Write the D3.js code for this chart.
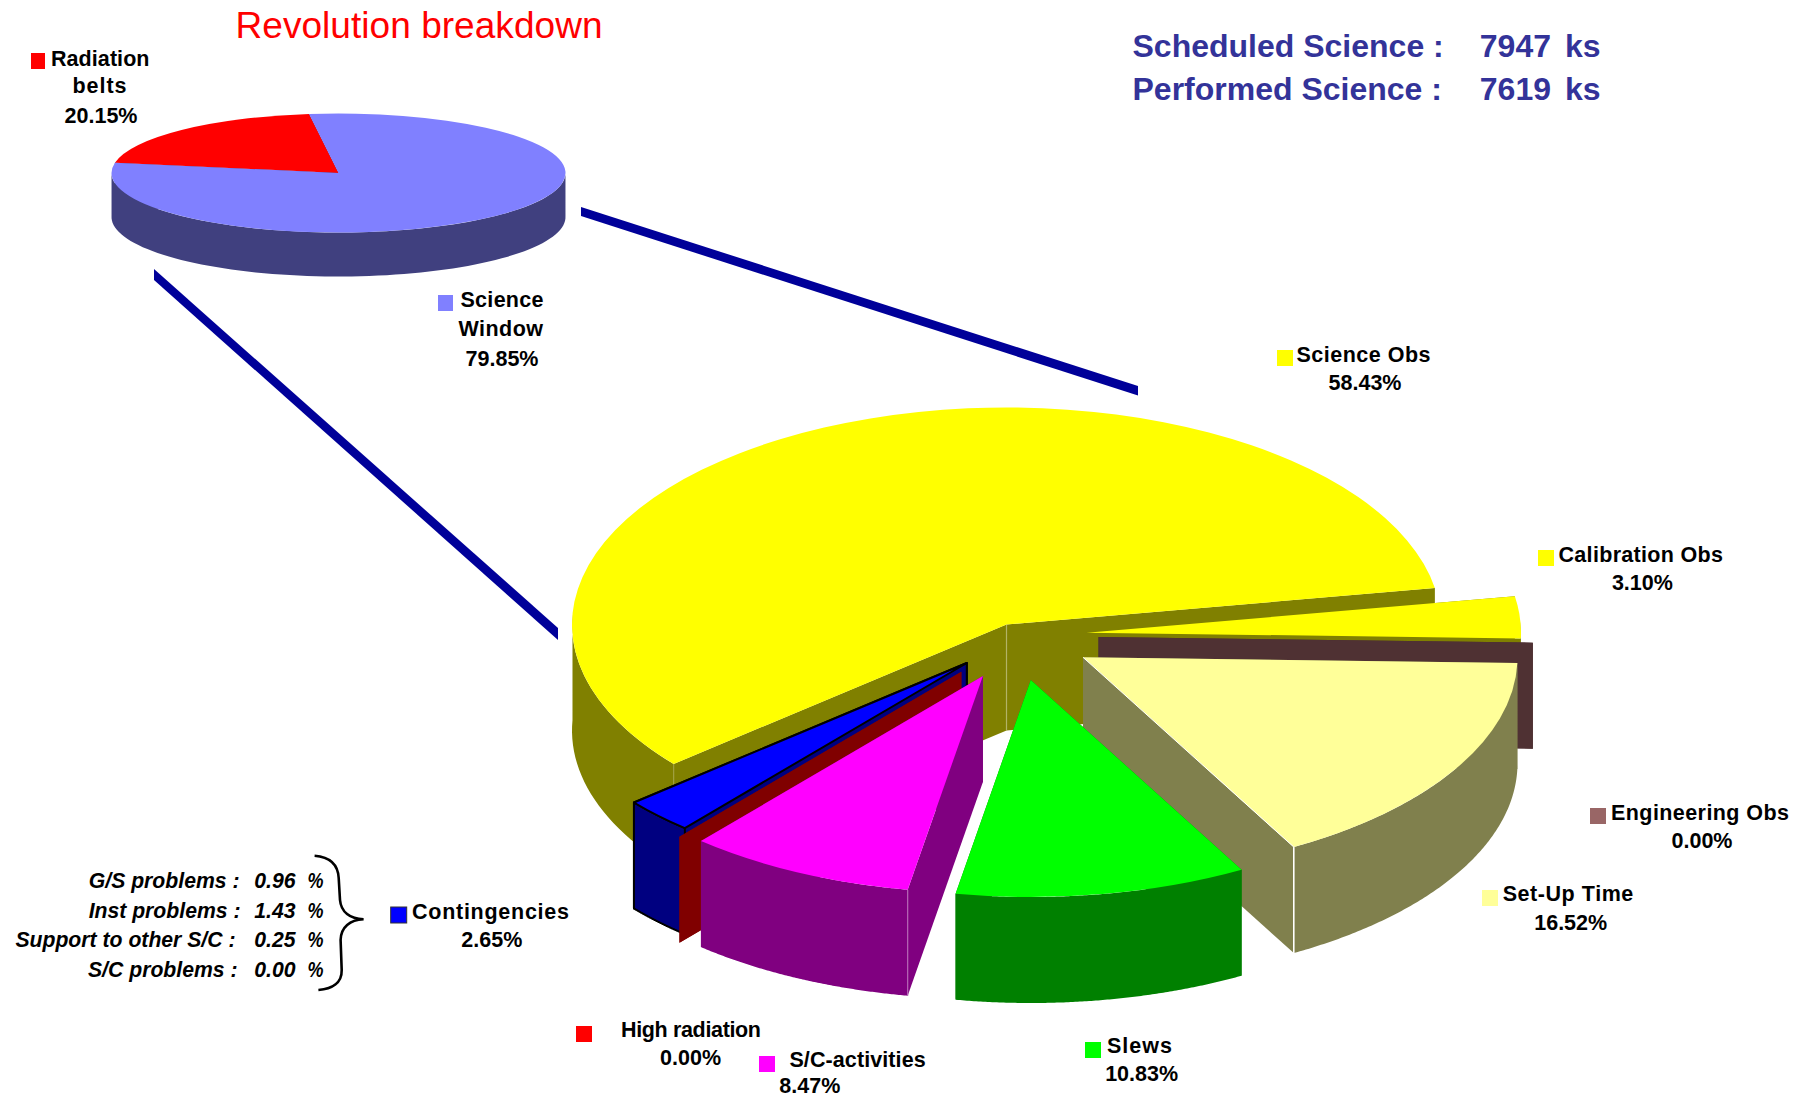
<!DOCTYPE html>
<html>
<head>
<meta charset="utf-8">
<script src="https://cdn.jsdelivr.net/npm/d3@7/dist/d3.min.js"></script>
<style>
html,body{margin:0;padding:0;background:#fff;}
svg{display:block;font-family:"Liberation Sans",Arial,sans-serif;}
.lab{font-weight:bold;font-size:21.5px;fill:#000;}
</style>
</head>
<body>
<svg id="c" width="1812" height="1097"></svg>
<script>
// ---- data
const titleText = "Revolution breakdown";
const miniCategories = ["Radiation belts", "Science Window"];
const miniValues = [20.15, 79.85];
const mainCategories = ["Science Obs","Calibration Obs","Engineering Obs","Set-Up Time","Slews","S/C-activities","High radiation","Contingencies"];
const mainValues = [58.43, 3.10, 0.00, 16.52, 10.83, 8.47, 0.00, 2.65];
const contingencyLabels = ["G/S problems :","Inst problems :","Support to other S/C :","S/C problems :"];
const contingencyValues = ["0.96","1.43","0.25","0.00"];
const summaryLabels = ["Scheduled Science :","Performed Science :"];
const summaryValues = [7947, 7619];

// ---- styles
const mainTop  = ["#ffff00","#ffff00","#996666","#ffff99","#00ff00","#ff00ff","#ff0000","#0000ff"];
const mainSide = ["#808000","#808000","#4f3133","#80804d","#008000","#800080","#800000","#000080"];
const miniTop  = ["#ff0000","#8080ff"];
const miniSide = ["#800000","#40407f"];

// ---- layout
const svg = d3.select("#c");
const rad = d => d*Math.PI/180;
const mainGeom = {rx:434.5, ry:217, depth:106, start:230};
const miniGeom = {rx:227, ry:59.5, depth:44, start:280};
// apex of each exploded slice on the page
const mainApex = [[1006.5,624.5],[1086.5,632.7],[1098.5,637],[1083,657.3],[1030.8,680],[982.9,676],[961.4,671.7],[966.8,663]];
const miniApex = [[338.5,173],[338.5,173]];
const paintOrder = [0,1,2,3,7,6,5,4];

function drawPie(values, geom, apex, top, side, order, opts){
  const arcs = d3.pie().sort(null).value(d=>d)
    .startAngle(rad(geom.start)).endAngle(rad(geom.start+360))(values);
  const arcGen = d3.arc().innerRadius(0).outerRadius(geom.rx);
  const pt = (i,a)=>[apex[i][0]+geom.rx*Math.sin(a), apex[i][1]-geom.ry*Math.cos(a)];
  const poly = d3.line();
  const shared = opts.wallsFirst ? svg.append("g") : null;
  order.forEach(i=>{
    const d = arcs[i], A = apex[i], g = svg.append("g");
    const wallG = shared || g;
    const sty = sel => {
      sel.attr("fill",side[i]);
      if(opts.outlined===i) sel.attr("stroke","#000").attr("stroke-width",2).attr("stroke-linejoin","round");
    };
    const dn = p=>[p[0],p[1]+geom.depth];
    const P0 = pt(i,d.startAngle), P1 = pt(i,d.endAngle);
    // radial walls
    [P0,P1].forEach(P=>{
      wallG.append("path").attr("d",poly([A,P,dn(P),dn(A)])+"Z").call(sty);
    });
    // outer wall, front-facing part of the rim only
    const steps = d3.range(0,129).map(k=>d.startAngle+(d.endAngle-d.startAngle)*k/128)
      .filter(a=>Math.cos(a)<0.05);
    if(steps.length>1){
      const rim = steps.map(a=>pt(i,a));
      wallG.append("path").attr("d",poly(rim.concat(rim.slice().reverse().map(dn)))+"Z").call(sty);
    }
    // light vertical corner lines
    (opts.edges[i]||[]).forEach(e=>{
      const p = e.at==="apex"?A:(e.at==="start"?P0:P1);
      wallG.append("line").attr("x1",p[0]).attr("y1",p[1]).attr("x2",p[0]).attr("y2",p[1]+geom.depth)
        .attr("stroke",e.c).attr("stroke-width",e.w||1.2);
    });
    // top surface
    if(d.endAngle-d.startAngle>1e-6){
      const t = g.append("path").attr("d",arcGen(d))
        .attr("transform",`translate(${A[0]},${A[1]}) scale(1,${geom.ry/geom.rx})`)
        .attr("fill",top[i]);
      if(opts.outlined===i) t.attr("stroke","#000").attr("stroke-width",2)
        .attr("vector-effect","non-scaling-stroke").attr("stroke-linejoin","round");
    }
  });
}

// connector bands
const bands = [[[581,207],[1138,386],[1138,395.5],[581,216]],[[154,269],[558,628],[558,640],[154,280]]];
svg.selectAll("path.band").data(bands).enter().append("path").attr("class","band")
  .attr("d",d=>d3.line()(d)+"Z").attr("fill","#000099");

drawPie(miniValues, miniGeom, miniApex, miniTop, miniSide, [0,1], {edges:{}, wallsFirst:true});
drawPie(mainValues, mainGeom, mainApex, mainTop, mainSide, paintOrder, {
  outlined:7,
  edges:{
    0:[{at:"apex",c:"#b3b366"},{at:"start",c:"#a0a040"}],
    3:[{at:"end",c:"#ffffff",w:1.6}],
    5:[{at:"start",c:"#b566b5"}]
  }
});
// pale seam on the Set-Up Time radial edge
(function(){
  const a = rad(mainGeom.start+360*d3.sum(mainValues.slice(0,4))/100);
  const A = mainApex[3];
  svg.append("line").attr("x1",A[0]).attr("y1",A[1])
    .attr("x2",A[0]+mainGeom.rx*Math.sin(a)).attr("y2",A[1]-mainGeom.ry*Math.cos(a))
    .attr("stroke","#ffffff").attr("stroke-width",1);
})();

// title
svg.append("text").text(titleText).attr("x",235.5).attr("y",37.5)
  .attr("font-size",37).attr("fill","#ff0000").attr("textLength",367);

// summary
summaryLabels.forEach((s,i)=>{
  const y = [56.7,100][i];
  const t = a=>svg.append("text").attr("y",y).attr("font-size",32).attr("font-weight","bold").attr("fill","#333399").text(a);
  t(s).attr("x",1132.5);
  t(summaryValues[i]).attr("x",1551).attr("text-anchor","end");
  t("ks").attr("x",1565);
});

// legend labels
const fmt = v=>v.toFixed(2)+"%";
const mainColorOf = n=>mainTop[mainCategories.indexOf(n)];
const pct = n=>fmt(mainValues[mainCategories.indexOf(n)]);
const legendLayout = [
 {name:"Science Obs", sw:[1277,350], tx:1296.5, ty:362, w:134, px:1365, py:389.5},
 {name:"Calibration Obs", sw:[1538,550], tx:1558.5, ty:561.5, w:164.5, px:1642.4, py:589.5},
 {name:"Engineering Obs", sw:[1590,808], tx:1611, ty:819.5, w:178, px:1702, py:847.5},
 {name:"Set-Up Time", sw:[1482,890], tx:1502.7, ty:901, w:130.6, px:1570.7, py:929.5},
 {name:"Slews", sw:[1085,1042], tx:1107, ty:1053, w:65, px:1141.6, py:1081},
 {name:"S/C-activities", sw:[759,1056], tx:789.4, ty:1067, w:136.3, px:809.8, py:1092.5},
 {name:"High radiation", sw:[576,1026], tx:621, ty:1036.7, w:140, px:690.6, py:1065},
 {name:"Contingencies", sw:[390.7,907], tx:412, ty:919, w:157, px:491.8, py:947}
];
legendLayout.forEach(L=>{
  const c = mainColorOf(L.name);
  const r = svg.append("rect").attr("x",L.sw[0]).attr("y",L.sw[1]).attr("width",16).attr("height",16).attr("fill",c);
  if(L.name==="Contingencies") r.attr("stroke","#333").attr("stroke-width",1);
  svg.append("text").attr("class","lab").attr("x",L.tx).attr("y",L.ty).text(L.name)
    .attr("textLength",L.w).attr("lengthAdjust","spacing");
  svg.append("text").attr("class","lab").attr("x",L.px).attr("y",L.py).attr("text-anchor","middle").text(pct(L.name));
});

// mini pie legend (wrapped names)
const miniLayout = [
 {sw:[31,53,14], lines:[["Radiation",51,66,98.5],["belts",72.5,92.7,54]], p:[101,122.7]},
 {sw:[438,295,15], lines:[["Science",460.5,306.7,83],["Window",458.5,335.7,84.5]], p:[502,366]}
];
miniLayout.forEach((L,i)=>{
  svg.append("rect").attr("x",L.sw[0]).attr("y",L.sw[1]).attr("width",L.sw[2]).attr("height",16).attr("fill",miniTop[i]);
  L.lines.forEach(l=>svg.append("text").attr("class","lab").attr("x",l[1]).attr("y",l[2])
    .attr("textLength",l[3]).attr("lengthAdjust","spacing").text(l[0]));
  svg.append("text").attr("class","lab").attr("x",L.p[0]).attr("y",L.p[1]).attr("text-anchor","middle").text(fmt(miniValues[i]));
});

// contingency breakdown
const rowY = [887.5,917.5,947,976.5], rowEnd = [239.5,240.5,235.5,237.5];
contingencyLabels.forEach((s,i)=>{
  const t = (a,x,anc)=>svg.append("text").attr("class","lab").style("font-style","italic").style("font-size","21.2px")
    .attr("x",x).attr("y",rowY[i]).attr("text-anchor",anc).text(a);
  t(s,rowEnd[i],"end");
  t(contingencyValues[i],295.5,"end");
  t("%",307.5,"start").attr("textLength",16).attr("lengthAdjust","spacingAndGlyphs");
});
svg.append("path")
  .attr("d","M314.6,855.7 C331,857 338,865 338.7,878 L340,900 C341,912 350,919 363.6,919.3 C350,920 341,927 340.6,940 L341.7,970 C342,983 332,989 318.4,990")
  .attr("fill","none").attr("stroke","#000").attr("stroke-width",2.6);
</script>
</body>
</html>
